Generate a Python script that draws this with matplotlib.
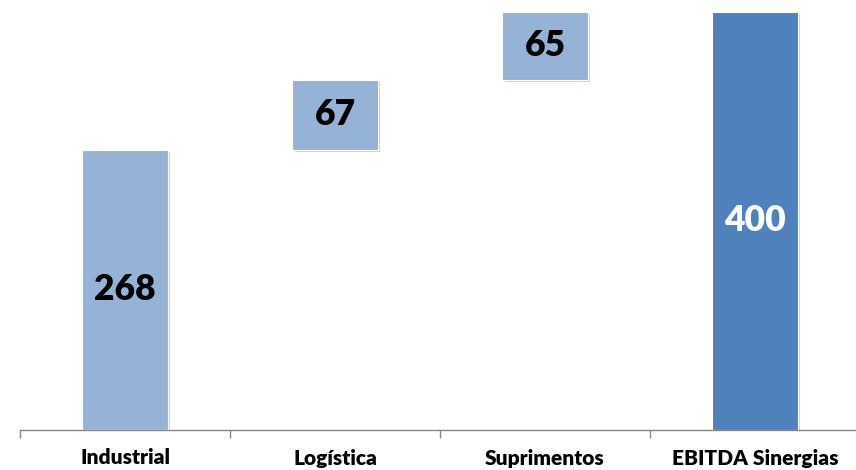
import matplotlib
import matplotlib.pyplot as plt
import matplotlib.patheffects as pe

matplotlib.use('Agg')

# Chart data
categories = ['Industrial', 'Logística', 'Suprimentos', 'EBITDA Sinergias']
values = [268, 67, 65, 400]
is_total = [False, False, False, True]

light = '#95B3D7'
dark = '#4F81BD'

# Waterfall bottoms: increments stack on the running sum, totals start at zero
bottoms = []
running = 0
for v, tot in zip(values, is_total):
    if tot:
        bottoms.append(0)
        running = v
    else:
        bottoms.append(running)
        running += v

fig = plt.figure(figsize=(8.56, 4.70), dpi=100)
ax = fig.add_axes([20 / 856, 40 / 470, 840 / 856, 430 / 470])

x = list(range(len(categories)))
colors = [dark if t else light for t in is_total]
shadow = [pe.SimplePatchShadow(offset=(1.5, -1.5), shadow_rgbFace='#808080', alpha=0.35), pe.Normal()]

bars = ax.bar(x, values, bottom=bottoms, width=0.405, color=colors, edgecolor='white', linewidth=0.8, zorder=3)
for b in bars:
    b.set_path_effects(shadow)

# Value labels in the middle of each bar
for xi, v, b0, tot in zip(x, values, bottoms, is_total):
    ax.text(xi, b0 + v / 2, str(v), ha='center', va='center', fontsize=25.5, fontweight='heavy',
            family='Lato', color='white' if tot else 'black', zorder=4)

ax.set_xlim(-0.5, len(categories) - 0.5)
ax.set_ylim(0, 411)

for s in ['top', 'right', 'left']:
    ax.spines[s].set_visible(False)
ax.spines['bottom'].set_color('#868686')
ax.spines['bottom'].set_linewidth(1.0)
ax.set_yticks([])

# Tick marks on category boundaries, labels centred between them
ax.set_xticks([i - 0.5 for i in range(len(categories) + 1)])
ax.set_xticklabels([])
ax.tick_params(axis='x', length=6, color='#868686', width=1.0)
for xi, c in zip(x, categories):
    ax.text(xi, -28 * 411 / 430, c, ha='center', va='center', fontsize=15, fontweight='heavy',
            family='Lato', color='black', clip_on=False)

plt.savefig('out.png', dpi=100)
plt.close()
